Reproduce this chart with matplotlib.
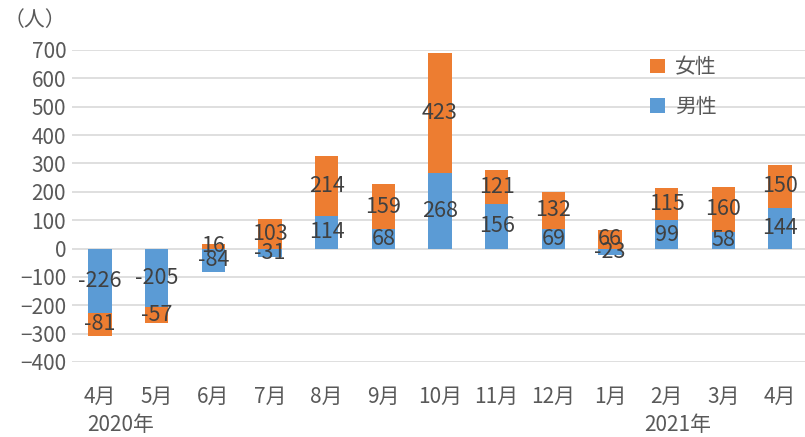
import matplotlib.pyplot as plt

plt.rcParams['font.family'] = ['Noto Sans CJK JP', 'DejaVu Sans']

months = ['4月', '5月', '6月', '7月', '8月', '9月', '10月', '11月', '12月',
          '1月', '2月', '3月', '4月']
male = [-226, -205, -84, -31, 114, 68, 268, 156, 69, -23, 99, 58, 144]
female = [-81, -57, 16, 103, 214, 159, 423, 121, 132, 66, 115, 160, 150]
years = ['2020年', '2021年']

BLUE = '#5B9BD5'
ORANGE = '#ED7D31'
TXT = '#595959'
LBL = '#404040'
FS = 15

fig = plt.figure(figsize=(8.05, 4.37), dpi=100)
ax = fig.add_axes([71.7 / 805, 75 / 437, (808.3 - 71.7) / 805, 312 / 437])

x = list(range(len(months)))
# excel stacks positives and negatives separately
fem_bottom = [m if (m < 0) == (f < 0) else 0 for m, f in zip(male, female)]

bm = ax.bar(x, male, width=0.41, color=BLUE, label='男性', zorder=2)
bf = ax.bar(x, female, width=0.41, bottom=fem_bottom, color=ORANGE, label='女性', zorder=2)

for i in x:
    ax.text(i, male[i] / 2, str(male[i]), ha='center', va='center',
            fontsize=15.5, color=LBL, zorder=3)
    ax.text(i, fem_bottom[i] + female[i] / 2, str(female[i]), ha='center', va='center',
            fontsize=15.5, color=LBL, zorder=3)

ax.set_xlim(-0.5, len(months) - 0.5)
ax.set_ylim(-400, 700)
ax.set_yticks(range(-400, 701, 100))
ax.set_xticks(x)
ax.set_xticklabels(months)
ax.tick_params(length=0, labelsize=FS, colors=TXT)
ax.tick_params(axis='x', pad=17)
ax.tick_params(axis='y', pad=4)
ax.grid(axis='y', color='#D9D9D9', linewidth=1.2, zorder=0)
for s in ax.spines.values():
    s.set_visible(False)

ax.text(0.37, -623, years[0], ha='center', va='center', fontsize=FS, color=TXT,
        clip_on=False)
ax.text(10.2, -623, years[1], ha='center', va='center', fontsize=FS, color=TXT,
        clip_on=False)
fig.text(4 / 805, 1 - 20 / 437, '（人）', ha='left', va='center', fontsize=FS, color=TXT)

ax.legend(handles=[bf, bm], loc='upper left', bbox_to_anchor=(0.76, 1.04), frameon=False,
          fontsize=FS, labelcolor=TXT, handlelength=0.7, handleheight=0.7,
          handletextpad=0.5, labelspacing=0.85)

fig.savefig('out.png', dpi=100)
